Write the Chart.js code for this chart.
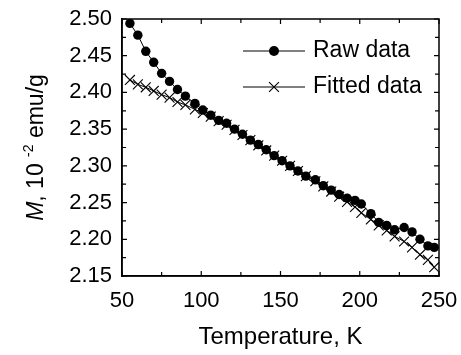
<!DOCTYPE html>
<html>
<head>
<meta charset="utf-8">
<script src="https://cdn.jsdelivr.net/npm/chart.js@4.4.0/dist/chart.umd.min.js"></script>
<style>
  html, body { margin: 0; padding: 0; background: #fff; }
  canvas { display: block; }
</style>
</head>
<body>
<canvas id="chart" width="461" height="355"></canvas>
<script>
// ── Data ─────────────────────────────────────────────────────
const temps = [55, 60, 65, 70, 75, 80, 85, 90, 96, 101, 106, 111,
  116, 121, 126, 131, 136, 141, 146, 151, 156, 161, 166,
  172, 177, 182, 187, 192, 197, 201, 207, 212, 217, 222, 228, 233, 238, 243, 247];
const rawM = [2.494, 2.478, 2.456, 2.441, 2.426, 2.415, 2.404, 2.395, 2.385, 2.376, 2.369, 2.362,
  2.358, 2.350, 2.343, 2.335, 2.329, 2.322, 2.314, 2.307, 2.300, 2.293, 2.286,
  2.281, 2.273, 2.267, 2.261, 2.256, 2.253, 2.248, 2.235, 2.223, 2.219, 2.213, 2.216, 2.210, 2.200, 2.191, 2.189];
const fitM = [2.417, 2.411, 2.407, 2.402, 2.397, 2.393, 2.387, 2.383, 2.377, 2.372, 2.367, 2.361,
  2.356, 2.349, 2.342, 2.335, 2.328, 2.321, 2.314, 2.307, 2.300, 2.293, 2.286,
  2.279, 2.272, 2.265, 2.258, 2.251, 2.244, 2.236, 2.227, 2.219, 2.212, 2.204, 2.197, 2.189, 2.179, 2.172, 2.162];
const xTicks = [50, 100, 150, 200, 250];
const yTicks = [2.15, 2.20, 2.25, 2.30, 2.35, 2.40, 2.45, 2.50];
const seriesNames = ['Raw data', 'Fitted data'];

const FONT = '"Liberation Sans", Arial, Helvetica, sans-serif';

// ── Frame with inward ticks on all four sides ────────────────
const framePlugin = {
  id: 'frame',
  afterDatasetsDraw(chart) {
    const { ctx, chartArea: a, scales: { x, y } } = chart;
    ctx.save();
    ctx.strokeStyle = '#000';
    ctx.lineWidth = 1.5;
    ctx.strokeRect(a.left, a.top, a.right - a.left, a.bottom - a.top);
    ctx.lineWidth = 1.2;
    const tick = (len, px, vertical) => {
      ctx.beginPath();
      if (vertical) {
        ctx.moveTo(px, a.bottom); ctx.lineTo(px, a.bottom - len);
        ctx.moveTo(px, a.top);    ctx.lineTo(px, a.top + len);
      } else {
        ctx.moveTo(a.left, px);  ctx.lineTo(a.left + len, px);
        ctx.moveTo(a.right, px); ctx.lineTo(a.right - len, px);
      }
      ctx.stroke();
    };
    xTicks.forEach((v, i) => {
      tick(5, x.getPixelForValue(v), true);
      if (i < xTicks.length - 1) tick(4, x.getPixelForValue((v + xTicks[i + 1]) / 2), true);
    });
    yTicks.forEach((v, i) => {
      tick(5, y.getPixelForValue(v), false);
      if (i < yTicks.length - 1) tick(4, y.getPixelForValue((v + yTicks[i + 1]) / 2), false);
    });
    ctx.restore();
  },
};

// ── Y title: italic M and superscript exponent ───────────────
const yTitlePlugin = {
  id: 'yTitle',
  afterDraw(chart) {
    const { ctx, chartArea: a } = chart;
    const parts = [
      { t: 'M',       f: `italic 23px ${FONT}`, dy: 0 },
      { t: ', 10 ',   f: `23px ${FONT}`,        dy: 0 },
      { t: '-2',      f: `14px ${FONT}`,        dy: -10 },
      { t: ' emu/g',  f: `23px ${FONT}`,        dy: 0 },
    ];
    ctx.save();
    let total = 0;
    parts.forEach(p => { ctx.font = p.f; p.w = ctx.measureText(p.t).width; total += p.w; });
    ctx.translate(43, (a.top + a.bottom) / 2);
    ctx.rotate(-Math.PI / 2);
    ctx.fillStyle = '#000';
    ctx.textBaseline = 'alphabetic';
    let cx = -total / 2;
    parts.forEach(p => { ctx.font = p.f; ctx.fillText(p.t, cx, p.dy); cx += p.w; });
    ctx.restore();
  },
};

// ── Legend: line segment with marker, then label ─────────────
const legendPlugin = {
  id: 'lineLegend',
  afterDraw(chart) {
    const { ctx } = chart;
    const rows = [51, 87];
    ctx.save();
    chart.data.datasets.forEach((ds, i) => {
      const yy = rows[i];
      ctx.strokeStyle = '#000';
      ctx.lineWidth = 1;
      ctx.beginPath(); ctx.moveTo(243, yy); ctx.lineTo(305, yy); ctx.stroke();
      if (ds.pointStyle === 'circle') {
        ctx.fillStyle = '#000';
        ctx.beginPath(); ctx.arc(274, yy, ds.pointRadius + 0.3, 0, Math.PI * 2); ctx.fill();
      } else {
        const r = ds.pointRadius * Math.SQRT1_2;
        ctx.lineWidth = ds.pointBorderWidth;
        ctx.beginPath();
        ctx.moveTo(274 - r, yy - r); ctx.lineTo(274 + r, yy + r);
        ctx.moveTo(274 - r, yy + r); ctx.lineTo(274 + r, yy - r);
        ctx.stroke();
      }
      ctx.fillStyle = '#000';
      ctx.font = `23px ${FONT}`;
      ctx.textBaseline = 'middle';
      ctx.fillText(ds.label, 313, yy);
    });
    ctx.restore();
  },
};

new Chart(document.getElementById('chart'), {
  type: 'line',
  data: {
    datasets: [
      {
        label: seriesNames[0],
        data: temps.map((t, i) => ({ x: t, y: rawM[i] })),
        borderColor: '#000', borderWidth: 1,
        pointStyle: 'circle', pointRadius: 4.7,
        pointBackgroundColor: '#000', pointBorderColor: '#000', pointBorderWidth: 0,
        tension: 0,
      },
      {
        label: seriesNames[1],
        data: temps.map((t, i) => ({ x: t, y: fitM[i] })),
        borderColor: '#000', borderWidth: 1,
        pointStyle: 'crossRot', pointRadius: 7,
        pointBorderColor: '#000', pointBorderWidth: 1.1,
        tension: 0,
      },
    ],
  },
  options: {
    responsive: false,
    animation: false,
    devicePixelRatio: 1,
    layout: { padding: { top: 19, right: 22, left: 0, bottom: 0 } },
    plugins: { legend: { display: false }, tooltip: { enabled: false } },
    scales: {
      x: {
        type: 'linear', min: 50, max: 250,
        afterBuildTicks: s => { s.ticks = xTicks.map(v => ({ value: v })); },
        afterFit: s => { s.height = 79; s.paddingLeft = 0; s.paddingRight = 0; },
        grid: { display: false, drawTicks: false },
        border: { display: true, color: '#000', width: 1.5 },
        ticks: { color: '#000', padding: 12, maxRotation: 0, font: { family: FONT, size: 22 } },
        title: {
          display: true, text: 'Temperature, K', color: '#000',
          font: { family: FONT, size: 24 }, padding: { top: 0, bottom: 3 },
        },
      },
      y: {
        type: 'linear', min: 2.15, max: 2.50,
        afterBuildTicks: s => { s.ticks = yTicks.map(v => ({ value: v })); },
        afterFit: s => { s.width = 122; s.paddingTop = 0; s.paddingBottom = 0; },
        grid: { display: false, drawTicks: false },
        border: { display: true, color: '#000', width: 1.5 },
        ticks: {
          color: '#000', padding: 10, font: { family: FONT, size: 22 },
          callback: v => Number(v).toFixed(2),
        },
      },
    },
  },
  plugins: [framePlugin, yTitlePlugin, legendPlugin],
});
</script>
</body>
</html>
